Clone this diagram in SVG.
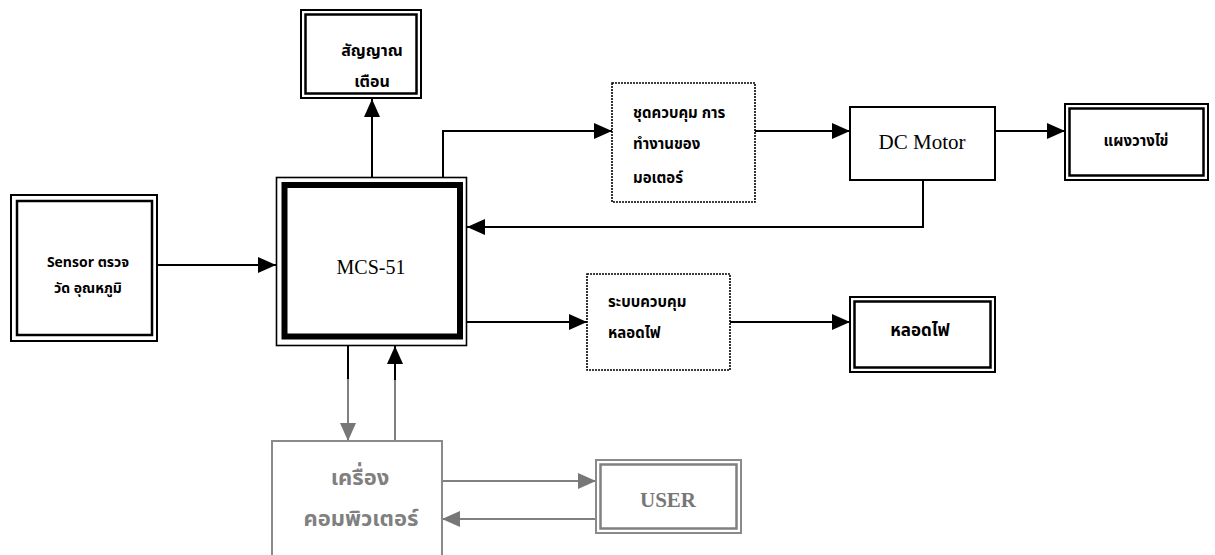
<svg xmlns="http://www.w3.org/2000/svg" width="1215" height="555" viewBox="0 0 1215 555">
<style>
.bx{fill:#fff;stroke:#000;stroke-width:2}
.in{fill:none;stroke:#000;stroke-width:2.5}
.dot{fill:#fff;stroke:#000;stroke-width:1.6;stroke-dasharray:2 1}
.gb{fill:#fff;stroke:#8a8a8a;stroke-width:2}
.gi{fill:none;stroke:#808080;stroke-width:2.5}
.th{font-family:"Noto Sans Thai","Noto Sans","DejaVu Sans",sans-serif;font-weight:bold;font-size:15px;fill:#000}
.sr{font-family:"Liberation Serif","Times New Roman",serif;font-size:20px;fill:#000}
.ln{fill:none;stroke:#000;stroke-width:2}
.gl{fill:none;stroke:#808080;stroke-width:2}
</style>
<defs>
<marker id="ah" viewBox="0 0 18 16" refX="18" refY="8" markerWidth="18" markerHeight="16" markerUnits="userSpaceOnUse" orient="auto"><path d="M0,0 L18,8 L0,16 Z" fill="#000"/></marker>
<marker id="gh" viewBox="0 0 18 16" refX="18" refY="8" markerWidth="18" markerHeight="16" markerUnits="userSpaceOnUse" orient="auto"><path d="M0,0 L18,8 L0,16 Z" fill="#777"/></marker>
</defs>
<rect width="1215" height="555" fill="#fff"/>
<g id="connectors">
<path class="ln" d="M157,265 H276" marker-end="url(#ah)"/>
<path class="ln" d="M372,177 V99" marker-end="url(#ah)"/>
<path class="ln" d="M443,177 V131 H612" marker-end="url(#ah)"/>
<path class="ln" d="M755,131 H850" marker-end="url(#ah)"/>
<path class="ln" d="M995,131 H1065" marker-end="url(#ah)"/>
<path class="ln" d="M923,180 V227 H467" marker-end="url(#ah)"/>
<path class="ln" d="M467,322 H587" marker-end="url(#ah)"/>
<path class="ln" d="M730,322 H850" marker-end="url(#ah)"/>
<path class="ln" d="M348,346 V380"/>
<path class="gl" d="M348,379 V441" marker-end="url(#gh)"/>
<path class="gl" d="M395,441 V378"/>
<path class="ln" d="M395,380 V346" marker-end="url(#ah)"/>
<path class="gl" d="M442,481 H596" marker-end="url(#gh)"/>
<path class="gl" d="M596,519 H442" marker-end="url(#gh)"/>
</g>
<g id="alarm">
<rect class="bx" x="301" y="10" width="120" height="88"/>
<rect class="in" x="305.5" y="14.5" width="111" height="79"/>
<text class="th" x="372" y="56" text-anchor="middle" style="font-size:16px">สัญญาณ</text>
<text class="th" x="372" y="87" text-anchor="middle" style="font-size:16px">เตือน</text>
</g>
<g id="motor-ctrl">
<rect class="dot" x="612" y="83" width="143" height="119"/>
<text class="th" x="633" y="118">ชุดควบคุม การ</text>
<text class="th" x="633" y="149">ทำงานของ</text>
<text class="th" x="633" y="183">มอเตอร์</text>
</g>
<g id="dc-motor">
<rect class="bx" x="850" y="107" width="145" height="73"/>
<text class="sr" x="922" y="149" text-anchor="middle" style="font-size:21px">DC Motor</text>
</g>
<g id="egg-tray">
<rect class="bx" x="1065" y="104" width="143" height="76"/>
<rect class="in" x="1069.5" y="108.5" width="134" height="67"/>
<text class="th" x="1136" y="146" text-anchor="middle">แผงวางไข่</text>
</g>
<g id="sensor">
<rect class="bx" x="11" y="195" width="146" height="146"/>
<rect class="in" x="17" y="201" width="135" height="134"/>
<text class="th" x="88" y="267" text-anchor="middle" style="font-size:14px">Sensor ตรวจ</text>
<text class="th" x="88" y="293" text-anchor="middle" style="font-size:14px">วัด อุณหภูมิ</text>
</g>
<g id="mcs51">
<rect fill="#fff" stroke="#000" stroke-width="1.6" x="276.5" y="177.5" width="190" height="168"/>
<rect fill="none" stroke="#000" stroke-width="6" x="284.5" y="185" width="175.5" height="151.5"/>
<text class="sr" x="371" y="274" text-anchor="middle">MCS-51</text>
</g>
<g id="lamp-ctrl">
<rect class="dot" x="587" y="274" width="143" height="96"/>
<text class="th" x="608" y="307">ระบบควบคุม</text>
<text class="th" x="608" y="338">หลอดไฟ</text>
</g>
<g id="lamp">
<rect class="bx" x="850" y="297" width="145" height="75"/>
<rect class="in" x="854.5" y="301.5" width="136" height="66"/>
<text class="th" x="920" y="336" text-anchor="middle" style="font-size:17px">หลอดไฟ</text>
</g>
<g id="computer">
<rect class="gb" x="272" y="441" width="170" height="120"/>
<text class="th" x="360" y="485" text-anchor="middle" style="fill:#808080;font-size:22px">เครื่อง</text>
<text class="th" x="361" y="526" text-anchor="middle" style="fill:#808080;font-size:22px">คอมพิวเตอร์</text>
</g>
<g id="user">
<rect class="gb" x="596" y="460" width="145" height="73"/>
<rect class="gi" x="600.5" y="464.5" width="136" height="64"/>
<text class="sr" x="668" y="507" text-anchor="middle" style="fill:#777;font-weight:bold;font-size:21px">USER</text>
</g>
</svg>
